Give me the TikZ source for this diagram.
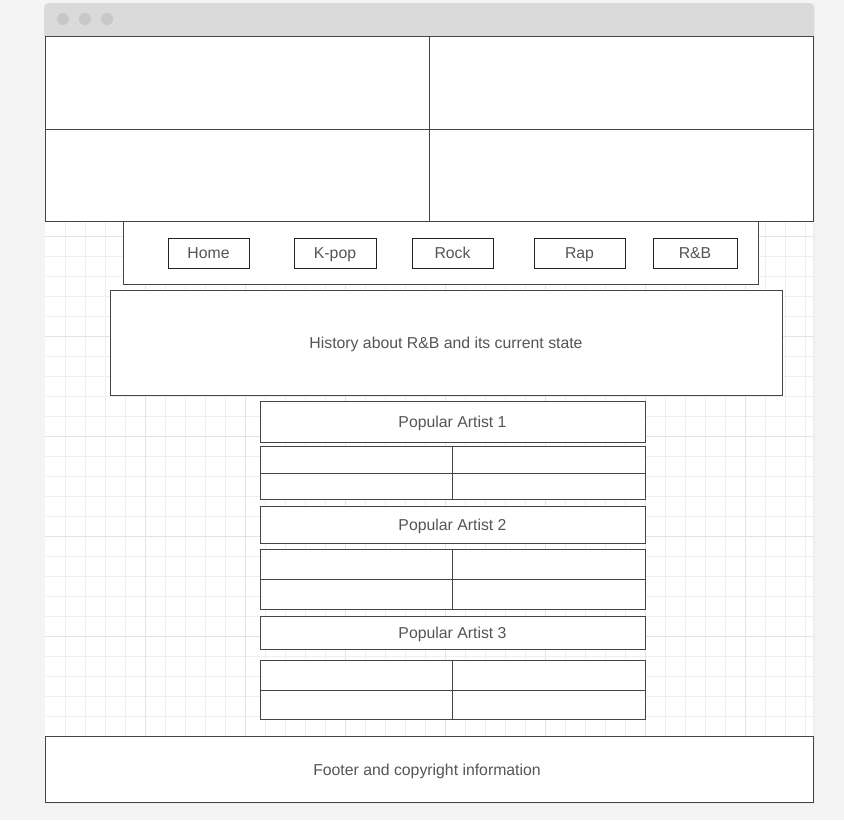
\documentclass[tikz,border=0pt]{standalone}
\usepackage{fontspec}
\setmainfont{Liberation Sans}
\begin{document}
\begin{tikzpicture}[x=1pt,y=-1pt,
  box/.style={draw=boxline,fill=white,line width=0.9pt},
  btn/.style={draw=btnline,fill=white,line width=0.9pt},
  lbl/.style={text=txt,font=\fontsize{15.8}{18}\selectfont,inner sep=0pt,
    text height=11.3pt,text depth=3.2pt,yshift=-1.8pt},
  divline/.style={draw=boxline,line width=0.9pt}]
\definecolor{bg}{HTML}{F4F4F4}
\definecolor{bar}{HTML}{DADADA}
\definecolor{dot}{HTML}{C8C8C8}
\definecolor{gridminor}{HTML}{EFEFEF}
\definecolor{gridmajor}{HTML}{E4E4E4}
\definecolor{boxline}{HTML}{444444}
\definecolor{btnline}{HTML}{222222}
\definecolor{txt}{HTML}{555555}
\useasboundingbox (0,0) rectangle (844,820);
\fill[bg] (0,0) rectangle (844,820);
% window
\fill[black!7] (45,4) rectangle (815,804);
\fill[bar,rounded corners=5pt] (44,3) rectangle (814,40);
\fill[bar] (44,30) rectangle (814,36);
\fill[white] (45,36) rectangle (813,803);
\foreach \cx in {63,85,107} \fill[dot] (\cx,19) circle (6);
% grid
\foreach \gx in {65,85,...,805} \draw[gridminor,line width=0.8pt] (\gx,36) -- (\gx,803);
\foreach \gy in {56,76,...,796} \draw[gridminor,line width=0.8pt] (45,\gy) -- (813,\gy);
\foreach \gx in {145,245,...,745} \draw[gridmajor,line width=0.8pt] (\gx,36) -- (\gx,803);
\foreach \gy in {136,236,...,736} \draw[gridmajor,line width=0.8pt] (45,\gy) -- (813,\gy);
% header cells
\draw[box] (45,36) rectangle (813,221);
\coordinate (hT) at (429,36); \coordinate (hB) at (429,221);
\coordinate (hL) at (45,129); \coordinate (hR) at (813,129);
\draw[divline] (hT) -- (hB);
\draw[divline] (hL) -- (hR);
% nav
\draw[box] (123,221) rectangle (758,284);
\draw[btn] (168,238) rectangle (249,268); \node[lbl] (home) at (208.5,253) {Home};
\draw[btn] (294,238) rectangle (376,268); \node[lbl] (kpop) at (335,253) {K-pop};
\draw[btn] (412,238) rectangle (493,268); \node[lbl] (rock) at (452.5,253) {Rock};
\draw[btn] (534,238) rectangle (625,268); \node[lbl] (rap) at (579.5,253) {Rap};
\draw[btn] (653,238) rectangle (737,268); \node[lbl] (rnb) at (695,253) {R\&B};
% history
\draw[box] (110,290) rectangle (782,395);
\node[lbl] (hist) at (446,342.5) {History about R\&B and its current state};
% artists
\draw[box] (260,401) rectangle (645,442); \node[lbl] (a1) at (452.5,421.5) {Popular Artist 1};
\draw[box] (260,446) rectangle (645,499);
\draw[divline] (452,446) -- (452,499); \draw[divline] (260,473) -- (645,473);
\draw[box] (260,506) rectangle (645,543); \node[lbl] (a2) at (452.5,524.5) {Popular Artist 2};
\draw[box] (260,549) rectangle (645,609);
\draw[divline] (452,549) -- (452,609); \draw[divline] (260,579) -- (645,579);
\draw[box] (260,616) rectangle (645,649); \node[lbl] (a3) at (452.5,632.5) {Popular Artist 3};
\draw[box] (260,660) rectangle (645,719);
\draw[divline] (452,660) -- (452,719); \draw[divline] (260,690) -- (645,690);
% footer
\draw[box] (45,736) rectangle (813,802);
\node[lbl] (foot) at (427,769.5) {Footer and copyright information};
\end{tikzpicture}
\end{document}
